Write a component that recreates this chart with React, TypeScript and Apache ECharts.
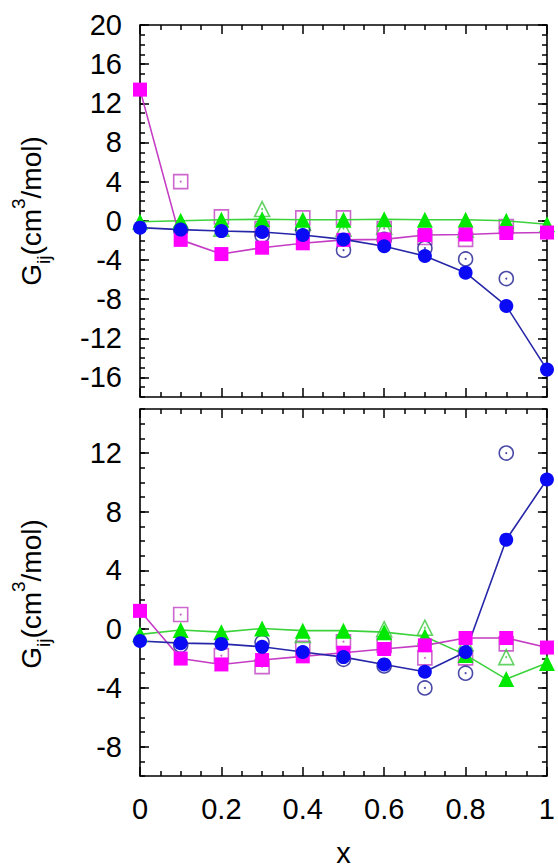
import React, { useEffect, useRef } from "react";
import * as echarts from "echarts";

const xValues = [0, 0.1, 0.2, 0.3, 0.4, 0.5, 0.6, 0.7, 0.8, 0.9, 1.0];
const xTickLabels = ["0", "0.2", "0.4", "0.6", "0.8", "1"];

// top panel
const topYTicks = [-16, -12, -8, -4, 0, 4, 8, 12, 16, 20];
const topBlueFilled = [-0.7, -0.9, -1.05, -1.15, -1.45, -1.9, -2.6, -3.6, -5.3, -8.7, -15.2];
const topBlueOpen = [null, -0.95, null, -1.5, -0.95, -3.0, -1.9, -2.8, -3.9, -5.9, null];
const topMagentaFilled = [13.4, -1.95, -3.4, -2.75, -2.3, -1.95, -1.9, -1.45, -1.4, -1.25, -1.2];
const topMagentaOpen = [null, 4.0, 0.4, -0.8, 0.3, 0.3, -0.8, -1.7, -1.9, -0.6, null];
const topGreenFilled = [-0.1, 0.0, 0.1, 0.15, 0.1, 0.1, 0.15, 0.1, 0.1, 0.0, -0.35];
const topGreenOpen = [null, null, -0.8, 1.2, -0.2, -0.8, -0.6, null, -0.9, null, null];

// bottom panel
const botYTicks = [-8, -4, 0, 4, 8, 12];
const botBlueFilled = [-0.8, -0.95, -1.0, -1.2, -1.55, -1.9, -2.4, -2.9, -1.55, 6.1, 10.2];
const botBlueOpen = [null, -1.1, null, -0.9, null, -2.05, -2.5, -4.0, -3.0, 12.0, null];
const botMagentaFilled = [1.25, -2.0, -2.4, -2.1, -1.85, -1.6, -1.35, -1.1, -0.6, -0.6, -1.25];
const botMagentaOpen = [null, 1.0, -1.8, -2.55, -1.3, -0.85, -1.1, -1.95, -1.95, -1.0, null];
const botGreenFilled = [-0.35, -0.05, -0.2, 0.05, -0.1, -0.1, -0.2, -0.5, -1.75, -3.4, -2.3];
const botGreenOpen = [null, null, null, null, -0.4, null, 0.0, 0.1, -0.95, -1.9, null];

const FONT = "'Liberation Sans', Arial, Helvetica, sans-serif";
const FS = 29;

const BLUE = "#0a0af5";
const BLUE_LINE = "#2626a8";
const BLUE_OPEN = "#1c1c90";
const MAG = "#ff00ff";
const MAG_LINE = "#c43cc4";
const MAG_OPEN = "#c040c0";
const GREEN = "#00e800";
const GREEN_LINE = "#3cd23c";
const GREEN_OPEN = "#3cc83c";

function pts(ys: (number | null)[]) {
  const out: number[][] = [];
  ys.forEach((y, i) => {
    if (y !== null) out.push([xValues[i], y]);
  });
  return out;
}

function xAxes(grid: number, showLabels: boolean) {
  const base = {
    gridIndex: grid,
    type: "value",
    min: 0,
    max: 1,
    interval: 0.2,
    axisLine: { show: false, onZero: false },
    axisTick: { show: true, inside: true, length: 9, lineStyle: { color: "#000", width: 1.5 } },
    minorTick: { show: true, splitNumber: 4, length: 5, lineStyle: { color: "#000", width: 1.5 } },
    splitLine: { show: false },
    minorSplitLine: { show: false },
  };
  return [
    {
      ...base,
      position: "bottom",
      axisLabel: {
        show: showLabels,
        margin: 18,
        fontSize: FS,
        fontFamily: FONT,
        color: "#000",
        formatter: (v: number) => {
          const idx = Math.round(v / 0.2);
          return xTickLabels[idx] ?? String(v);
        },
      },
      name: showLabels ? "x" : "",
      nameLocation: "middle",
      nameGap: 62,
      nameTextStyle: { fontSize: FS, fontFamily: FONT, color: "#000" },
    },
    { ...base, position: "top", axisLabel: { show: false } },
  ];
}

function yAxes(grid: number, min: number, max: number, ticks: number[]) {
  const major = (pos: string, labels: boolean) => ({
    gridIndex: grid,
    type: "value",
    min,
    max,
    position: pos,
    axisLine: { show: false, onZero: false },
    splitLine: { show: false },
    axisTick: {
      show: true,
      inside: true,
      length: 9,
      customValues: ticks,
      lineStyle: { color: "#000", width: 1.5 },
    },
    axisLabel: {
      show: labels,
      customValues: ticks,
      margin: 18,
      fontSize: FS,
      fontFamily: FONT,
      color: "#000",
    },
  });
  const minor = (pos: string) => ({
    gridIndex: grid,
    type: "value",
    min,
    max,
    interval: 1,
    position: pos,
    axisLine: { show: false, onZero: false },
    splitLine: { show: false },
    axisTick: { show: true, inside: true, length: 5, lineStyle: { color: "#000", width: 1.5 } },
    axisLabel: { show: false },
  });
  return [major("left", true), minor("left"), major("right", false), minor("right")];
}

function panelSeries(
  grid: number,
  blueF: number[],
  blueO: (number | null)[],
  magF: number[],
  magO: (number | null)[],
  greenF: number[],
  greenO: (number | null)[]
) {
  const xi = grid * 2;
  const yi = grid * 4;
  const common = { xAxisIndex: xi, yAxisIndex: yi, silent: true };
  const openSeries = (data: number[][], symbol: string, size: number, color: string) => [
    {
      ...common,
      type: "scatter",
      data,
      symbol,
      symbolSize: size,
      itemStyle: { color: "rgba(0,0,0,0)", borderColor: color, borderWidth: 1.6 },
    },
    {
      ...common,
      type: "scatter",
      data,
      symbol: "circle",
      symbolSize: 2,
      itemStyle: { color },
    },
  ];
  const lineSeries = (data: number[][], symbol: string, size: number, color: string, lineColor: string) => ({
    ...common,
    type: "line",
    data,
    symbol,
    symbolSize: size,
    showSymbol: true,
    itemStyle: { color, borderWidth: 0 },
    lineStyle: { color: lineColor, width: 1.6 },
  });
  return [
    lineSeries(pts(greenF), "triangle", 16, GREEN, GREEN_LINE),
    lineSeries(pts(magF), "rect", 14, MAG, MAG_LINE),
    ...openSeries(pts(magO), "rect", 14, MAG_OPEN),
    ...openSeries(pts(greenO), "triangle", 15, GREEN_OPEN),
    lineSeries(pts(blueF), "circle", 14, BLUE, BLUE_LINE),
    ...openSeries(pts(blueO), "circle", 14, BLUE_OPEN),
  ];
}

function ylabel(y: number) {
  return {
    type: "text",
    x: 31,
    y,
    rotation: Math.PI / 2,
    silent: true,
    style: {
      text: "{m|G}{sub|ij}{m|(cm}{sup|3}{m|/mol)}",
      align: "center",
      verticalAlign: "middle",
      fill: "#000",
      rich: {
        m: { fontSize: 28, fontFamily: FONT, lineHeight: 44, fill: "#000", color: "#000" },
        sub: { fontSize: 19, fontFamily: FONT, lineHeight: 22, verticalAlign: "bottom", fill: "#000", color: "#000" },
        sup: { fontSize: 19, fontFamily: FONT, lineHeight: 22, verticalAlign: "top", fill: "#000", color: "#000" },
      },
    },
  };
}

export default function App() {
  const ref = useRef<HTMLDivElement>(null);
  useEffect(() => {
    if (!ref.current) return;
    const chart = echarts.init(ref.current, undefined, { renderer: "svg" });
    const gridStyle = { show: true, borderColor: "#000", borderWidth: 1.6, backgroundColor: "transparent" };
    chart.setOption({
      animation: false,
      backgroundColor: "#fff",
      grid: [
        { ...gridStyle, left: 140, top: 25, width: 407, height: 372 },
        { ...gridStyle, left: 140, top: 409, width: 407, height: 370 },
      ],
      xAxis: [...xAxes(0, false), ...xAxes(1, true)],
      yAxis: [...yAxes(0, -18, 20, topYTicks), ...yAxes(1, -10, 15, botYTicks)],
      series: [
        ...panelSeries(0, topBlueFilled, topBlueOpen, topMagentaFilled, topMagentaOpen, topGreenFilled, topGreenOpen),
        ...panelSeries(1, botBlueFilled, botBlueOpen, botMagentaFilled, botMagentaOpen, botGreenFilled, botGreenOpen),
      ],
      graphic: [ylabel(211), ylabel(594)],
    });
    return () => chart.dispose();
  }, []);
  return (
    <div
      ref={ref}
      style={{ position: "fixed", left: 0, top: 0, width: 558, height: 868, background: "#fff" }}
    />
  );
}
